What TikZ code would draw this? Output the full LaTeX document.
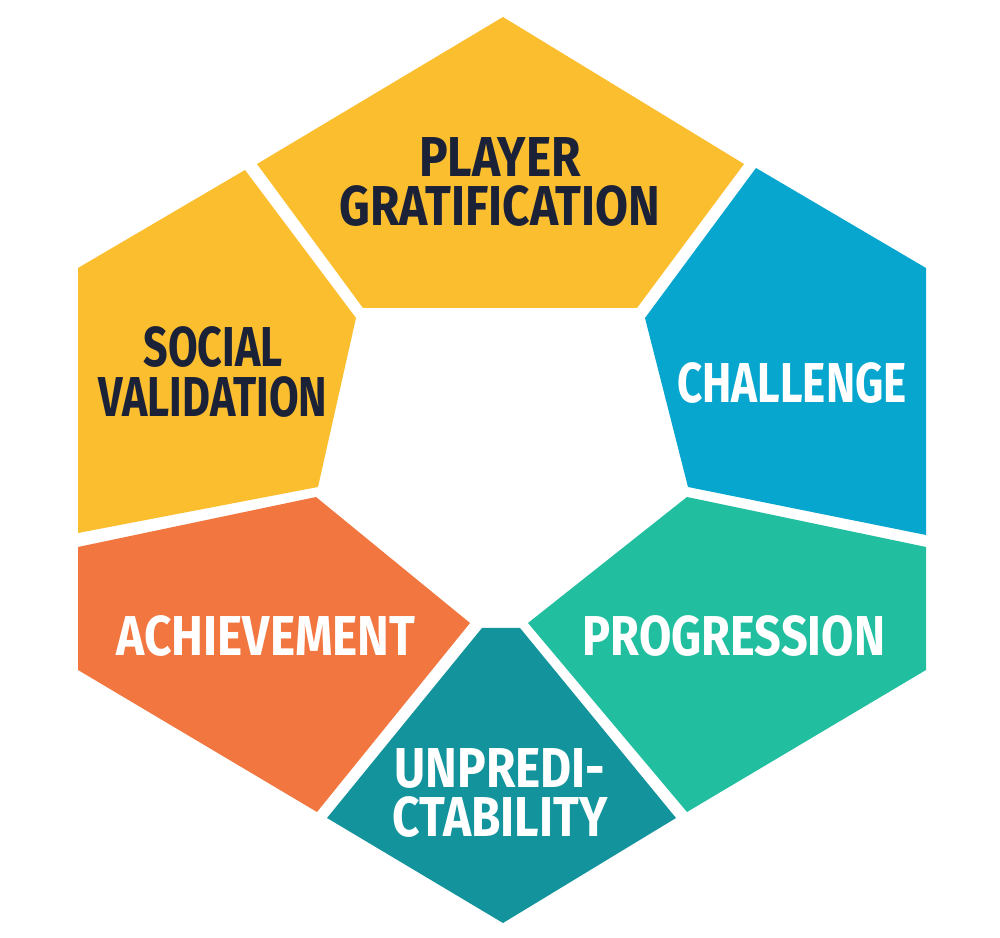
\documentclass[tikz,border=0pt]{standalone}
\usepackage{fontspec}
\newfontfamily\segfont{Fira Sans}[FakeStretch=0.85]
\definecolor{segyellow}{HTML}{FBBE2E}
\definecolor{segblue}{HTML}{06A6CE}
\definecolor{seggreen}{HTML}{21BEA0}
\definecolor{segteal}{HTML}{13949C}
\definecolor{segorange}{HTML}{F27640}
\definecolor{segnavy}{HTML}{1B2238}
\tikzset{
  seglabel/.style={inner sep=0pt, align=center, font=\segfont\bfseries\fontsize{16}{14.2}\selectfont},
  darklabel/.style={seglabel, text=segnavy},
  lightlabel/.style={seglabel, text=white},
  narrow/.style={xscale=#1, transform shape}
}

\begin{document}
\begin{tikzpicture}[x=0.1mm, y=-0.1mm]
			%%%%% START %%%%%
			\useasboundingbox (0, 0) rectangle (1000, 938);
			
			% top: player gratification
			\fill[segyellow] (503, 17) -- (744, 164) -- (637, 308) -- (363, 308) -- (257, 164) -- cycle;
			% upper left: social validation
			\fill[segyellow] (245, 170) -- (356, 318) -- (318, 487) -- (78, 533) -- (78, 268) -- cycle;
			% upper right: challenge
			\fill[segblue] (756, 168) -- (926, 268) -- (926, 535) -- (688, 487) -- (645, 318) -- cycle;
			% lower left: achievement
			\fill[segorange] (78, 547) -- (316, 497) -- (470, 623) -- (317, 812) -- (78, 670) -- cycle;
			% lower right: progression
			\fill[seggreen] (528, 623) -- (687, 497) -- (926, 547) -- (926, 670) -- (687, 812) -- cycle;
			% bottom: unpredictability
			\fill[segteal] (482, 628) -- (520, 628) -- (676, 818) -- (503, 923) -- (327, 818) -- cycle;
			
			\node[darklabel] (gratification) at (500, 182) {PLAYER\\GRATIFICATION};
			\node[darklabel, narrow=0.9] (social) at (213, 372) {SOCIAL\\VALIDATION};
			\node[lightlabel, narrow=0.92] (challenge) at (792, 383) {CHALLENGE};
			\node[lightlabel] (achievement) at (266, 636) {ACHIEVEMENT};
			\node[lightlabel, narrow=0.98] (progression) at (734, 636) {PROGRESSION};
			\node[lightlabel] (unpredictability) at (500, 793) {UNPREDI-\\CTABILITY};
			
			%%%%% END %%%%%
\end{tikzpicture}
\end{document}
